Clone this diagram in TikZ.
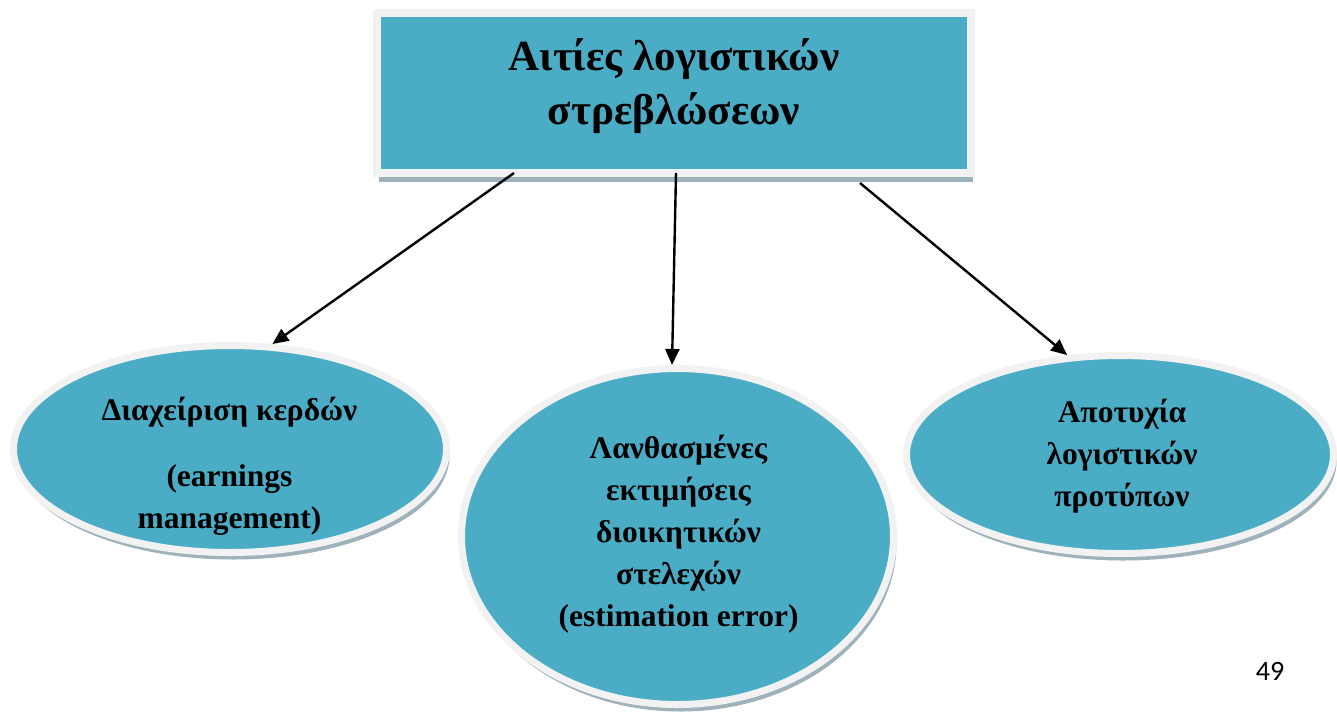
\documentclass[tikz,border=0pt]{standalone}
\usepackage{fontspec}
\setmainfont{Liberation Serif}
\newfontfamily\numfont{Carlito}
\usetikzlibrary{shapes.geometric,arrows.meta,shadows}
\definecolor{aqua}{HTML}{4BACC6}
\definecolor{rim}{HTML}{F2F2F2}
\definecolor{shade}{HTML}{9DB2BA}
\begin{document}
\begin{tikzpicture}[x=1pt,y=-1pt,
  boxst/.style={rectangle, fill=aqua, draw=rim, line width=8pt, inner sep=0pt,
    minimum width=594pt, minimum height=160pt,
    drop shadow={shadow xshift=2pt, shadow yshift=-9pt, fill=shade, opacity=1}},
  ellst/.style={ellipse, fill=aqua, draw=rim, line width=7pt, inner sep=0pt,
    drop shadow={shadow xshift=3pt, shadow yshift=-7pt, fill=shade, opacity=1}},
  txt/.style={font=\fontsize{31.5}{42}\selectfont\bfseries, align=center, inner sep=0pt},
  titletxt/.style={font=\fontsize{43}{54}\selectfont\bfseries, align=center, inner sep=0pt},
  arr/.style={line width=2.4pt, -{Triangle[length=16pt,width=14pt]}}]
\path[use as bounding box, fill=white] (0,0) rectangle (1337,713);

\node[boxst] (box) at (674,93) {};
\node[titletxt] (title) at (674,86) {Αιτίες λογιστικών\\στρεβλώσεων};

\node[ellst, minimum width=433pt, minimum height=207pt] (e1) at (230,449) {};
\node[ellst, minimum width=432pt, minimum height=336pt] (e2) at (677.5,536.5) {};
\node[ellst, minimum width=427pt, minimum height=198pt] (e3) at (1120,454.5) {};

\node[txt] (t1) at (229.5,466) {Διαχείριση κερδών\\[24pt](earnings\\management)};
\node[txt] (t2) at (678.5,534) {Λανθασμένες\\εκτιμήσεις\\διοικητικών\\στελεχών\\(estimation error)};
\node[txt] (t3) at (1122,456) {Αποτυχία\\λογιστικών\\προτύπων};

\draw[arr] ([xshift=-160pt,yshift=4pt]box.south) -- (e1.68);
\draw[arr] ([xshift=2pt,yshift=4pt]box.south) -- ([xshift=-5.5pt]e2.north);
\draw[arr] ([xshift=186pt,yshift=-6pt]box.south) -- (e3.118);

\node[font=\numfont\fontsize{28}{34}\selectfont, inner sep=0pt] (pg) at (1270,671) {49};
\end{tikzpicture}
\end{document}
